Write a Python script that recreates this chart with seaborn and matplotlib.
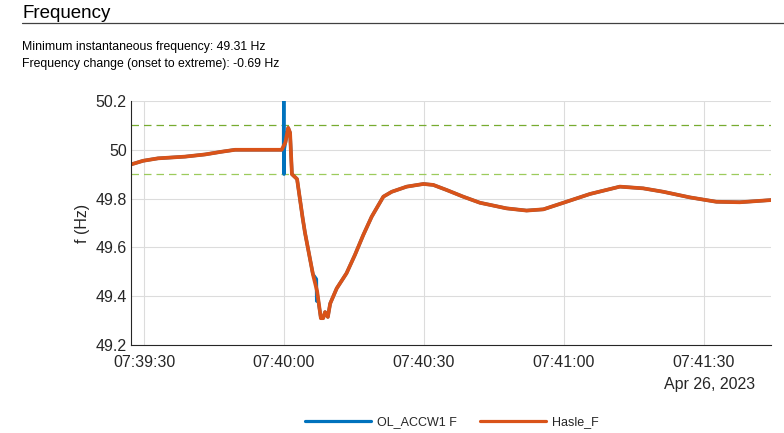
import numpy as np
import pandas as pd
import matplotlib
matplotlib.use("Agg")
import matplotlib.pyplot as plt
import matplotlib.dates as mdates
import matplotlib.transforms as mtransforms
import seaborn as sns

# ---- data (seconds after 07:39:30, frequency in Hz) ----
t_hasle = [-2.8, -0.2, 3, 8.8, 13.1, 16.6, 19.5, 24, 29.5, 30.3, 30.9, 31.3, 31.7, 32.8, 33.4,
           34.0, 34.5, 35.6, 36.2, 37.1, 37.9, 38.4, 38.8, 39.4, 39.9, 41.3, 43.4, 45.2, 47.0,
           48.8, 51.3, 53.1, 56.3, 59.9, 62.0, 64.9, 68.4, 72.0, 77.7, 82.0, 85.6, 89.9, 95.6,
           102.0, 107.0, 111.3, 117.0, 122.7, 127.7, 134.4]
f_hasle = [49.94, 49.955, 49.965, 49.972, 49.981, 49.992, 50.0, 50.0, 50.0, 50.03, 50.09, 50.07,
           49.90, 49.88, 49.80, 49.72, 49.66, 49.55, 49.49, 49.42, 49.31, 49.31, 49.335, 49.315,
           49.37, 49.432, 49.494, 49.569, 49.651, 49.726, 49.808, 49.828, 49.849, 49.86, 49.856,
           49.835, 49.808, 49.783, 49.76, 49.751, 49.756, 49.783, 49.819, 49.849, 49.842, 49.828,
           49.805, 49.787, 49.785, 49.794]

t_ol = [-2.8, -0.2, 3, 8.8, 13.1, 16.6, 19.5, 24, 29.9, 29.95, 30.0, 30.05, 30.3, 30.9, 31.3,
        31.7, 32.8, 33.4, 34.0, 34.5, 35.6, 36.2, 36.95, 37.0, 37.05, 37.9, 38.4, 38.8, 39.4,
        39.9, 41.3, 43.4, 45.2, 47.0, 48.8, 51.3, 53.1, 56.3, 59.9, 62.0, 64.9, 68.4, 72.0,
        77.7, 82.0, 85.6, 89.9, 95.6, 102.0, 107.0, 111.3, 117.0, 122.7, 127.7, 134.4]
f_ol = [49.94, 49.955, 49.965, 49.972, 49.981, 49.992, 50.0, 50.0, 50.0, 50.25, 49.90, 50.0,
        50.03, 50.09, 50.07, 49.90, 49.88, 49.80, 49.72, 49.66, 49.55, 49.49, 49.47, 49.38,
        49.42, 49.31, 49.31, 49.335, 49.315, 49.37, 49.432, 49.494, 49.569, 49.651, 49.726,
        49.808, 49.828, 49.849, 49.86, 49.856, 49.835, 49.808, 49.783, 49.76, 49.751, 49.756,
        49.783, 49.819, 49.849, 49.842, 49.828, 49.805, 49.787, 49.785, 49.794]

series_names = ["OL_ACCW1 F", "Hasle_F"]
limit_lines = [50.1, 49.9]
y_ticks = [49.2, 49.4, 49.6, 49.8, 50.0, 50.2]
y_ticklabels = ["49.2", "49.4", "49.6", "49.8", "50", "50.2"]
title_text = "Frequency"
info_lines = ["Minimum instantaneous frequency: 49.31 Hz",
              "Frequency change (onset to extreme): -0.69 Hz"]
date_text = "Apr 26, 2023"

base = pd.Timestamp("2023-04-26 07:39:30")
df = pd.concat([
    pd.DataFrame({"time": base + pd.to_timedelta(t_ol, unit="s"), "f": f_ol, "series": series_names[0]}),
    pd.DataFrame({"time": base + pd.to_timedelta(t_hasle, unit="s"), "f": f_hasle, "series": series_names[1]}),
], ignore_index=True)

sns.set_theme(style="white")
plt.rcParams["font.family"] = ["Liberation Sans", "DejaVu Sans"]

fig = plt.figure(figsize=(7.84, 4.33), dpi=100)
ax = fig.add_axes([131/784, 1-345/433, (771-131)/784, (345-101)/433])

sns.lineplot(data=df, x="time", y="f", hue="series", hue_order=series_names,
             palette=["#0072BD", "#D95319"], ax=ax, estimator=None, sort=False,
             linewidth=2.4, legend=False)
ax.lines[1].set_linewidth(2.7)
for ln in ax.lines[:2]:
    ln.set_solid_joinstyle("round")

ax.axhline(limit_lines[0], color="#77AC30", linestyle=(0, (6, 4)), linewidth=0.9, zorder=1)
ax.axhline(limit_lines[1], color="#9CCB5C", linestyle=(0, (6, 4)), linewidth=0.9, zorder=1)

ax.set_xlim(base - pd.Timedelta(seconds=2.8), base + pd.Timedelta(seconds=134.4))
ax.set_ylim(49.2, 50.2)
ax.set_yticks(y_ticks)
ax.set_yticklabels(y_ticklabels)
ax.xaxis.set_major_locator(mdates.SecondLocator(bysecond=[0, 30]))
ax.xaxis.set_major_formatter(mdates.DateFormatter("%H:%M:%S"))
ax.grid(True, color="#DCDCDC", linewidth=0.8)
ax.set_axisbelow(True)
for s in ["top", "right"]:
    ax.spines[s].set_visible(False)
for s in ["left", "bottom"]:
    ax.spines[s].set_color("#262626")
    ax.spines[s].set_linewidth(0.8)
ax.tick_params(axis="both", direction="in", length=4, width=0.8, colors="#262626",
               labelsize=11.5, labelcolor="#262626", pad=3)
ax.tick_params(axis="x", pad=7)
ax.set_xlabel("")
ax.set_ylabel("f (Hz)", fontsize=11.5, color="#262626", labelpad=4)

trans = mtransforms.blended_transform_factory(ax.transData, ax.transAxes)
ax.text(mdates.date2num(base + pd.Timedelta(seconds=121.3)), -0.163, date_text,
        transform=trans, ha="center", va="center", fontsize=11.5, color="#262626")

fig.text(22/784, 1-13/433, title_text, fontsize=13.5, ha="left", va="center", color="#000000")
fig.add_artist(plt.Line2D([22/784, 1.0], [1-23/433, 1-23/433], color="#404040", linewidth=0.9))
fig.text(22/784, 1-47/433, info_lines[0], fontsize=8.8, ha="left", va="center", color="#000000")
fig.text(22/784, 1-64/433, info_lines[1], fontsize=8.8, ha="left", va="center", color="#000000")

handles = [plt.Line2D([], [], color="#0072BD", linewidth=2.3),
           plt.Line2D([], [], color="#D95319", linewidth=2.3)]
fig.legend(handles, series_names, loc="center", bbox_to_anchor=(452/784, 1-422/433),
           ncol=2, frameon=False, fontsize=9, handlelength=5.3, columnspacing=1.8,
           handletextpad=0.5)

fig.savefig("out.png", dpi=100)
